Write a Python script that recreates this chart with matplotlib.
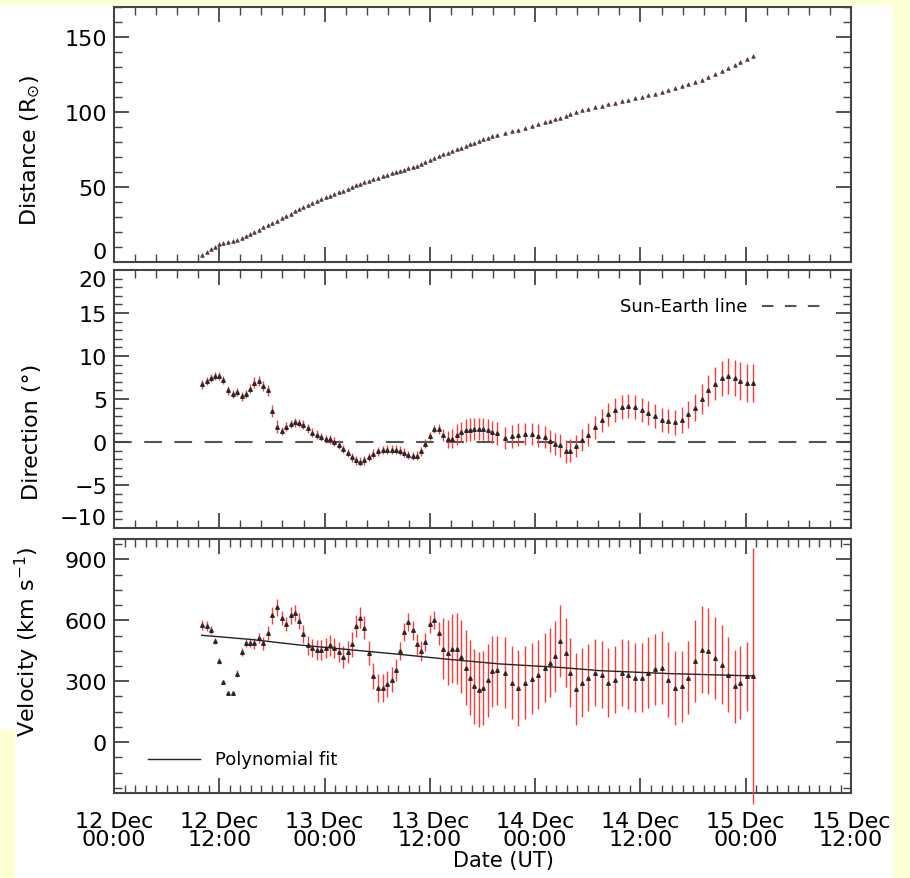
import matplotlib
matplotlib.use('Agg')
import matplotlib.pyplot as plt
from matplotlib.patches import Rectangle
from matplotlib.ticker import MultipleLocator, FixedLocator

# --- data: hours after 12 Dec 00:00 UT ---
hours = [10.0, 10.57, 11.06, 11.51, 12.0, 12.46, 13.03, 13.53, 13.98, 14.55,
         15.01, 15.47, 15.96, 16.49, 17.02, 17.52, 18.04, 18.54, 19.11, 19.6,
         20.14, 20.63, 21.12, 21.58, 22.08, 22.6, 23.1, 23.59, 24.13, 24.62,
         25.11, 25.64, 26.13, 26.64, 27.09, 27.58, 28.04, 28.53, 29.03, 29.55,
         30.12, 30.62, 31.15, 31.65, 32.14, 32.6, 33.05, 33.54, 34.04, 34.5,
         34.96, 35.45, 36.02, 36.51, 37.05, 37.53, 38.03, 38.56, 39.06, 39.55,
         40.08, 40.58, 41.06, 41.6, 42.09, 42.59, 43.12, 43.62, 44.56, 45.33,
         46.08, 46.84, 47.61, 48.36, 49.12, 49.69, 50.26, 50.83, 51.48, 51.97,
         52.66, 53.3, 54.06, 54.82, 55.58, 56.34, 57.1, 57.86, 58.62, 59.38,
         60.14, 60.9, 61.66, 62.42, 63.17, 63.94, 64.7, 65.45, 66.22, 66.98,
         67.73, 68.5, 69.26, 70.01, 70.78, 71.35, 72.11, 72.86]

distance = [4.9, 6.8, 8.5, 10.0, 11.7, 12.6, 13.4, 14.1, 14.8, 15.9,
            17.2, 18.6, 20.0, 21.6, 23.1, 24.6, 26.1, 27.6, 29.3, 30.7,
            32.2, 33.7, 35.1, 36.4, 37.9, 39.4, 40.9, 42.2, 43.3, 44.3,
            45.3, 46.4, 47.6, 48.8, 49.9, 51.0, 52.0, 53.0, 54.1, 55.1,
            56.3, 57.2, 58.2, 59.1, 60.0, 60.7, 61.6, 62.5, 63.4, 64.3,
            65.2, 66.5, 68.0, 69.3, 70.7, 71.8, 72.9, 74.1, 75.2, 76.3,
            77.4, 78.5, 79.6, 80.8, 81.8, 82.9, 83.8, 84.7, 86.2, 87.2,
            88.2, 89.3, 90.6, 91.9, 93.1, 94.0, 95.0, 96.0, 97.4, 98.5,
            100.0, 101.3, 102.2, 103.2, 104.2, 105.2, 106.2, 107.3, 108.2, 109.2,
            110.2, 111.2, 112.3, 113.3, 114.7, 116.0, 117.3, 118.7, 120.0, 121.5,
            123.5, 125.5, 127.5, 129.5, 131.5, 133.0, 135.0, 137.0]

direction = [6.7, 7.1, 7.45, 7.65, 7.65, 7.2, 6.0, 5.6, 5.8, 5.3,
             5.6, 6.2, 6.9, 7.1, 6.5, 6.0, 3.6, 1.8, 1.3, 1.8,
             2.1, 2.3, 2.2, 2.0, 1.6, 1.1, 0.85, 0.6, 0.35, 0.3,
             0.05, -0.3, -0.8, -1.3, -1.8, -2.15, -2.3, -2.15, -1.75, -1.35,
             -1.1, -0.95, -0.9, -0.9, -0.9, -1.0, -1.25, -1.5, -1.65, -1.6,
             -1.1, -0.2, 0.7, 1.5, 1.5, 0.8, 0.3, 0.4, 0.85, 1.15,
             1.35, 1.45, 1.5, 1.5, 1.5, 1.4, 1.15, 1.0, 0.5, 0.65,
             0.85, 0.9, 0.9, 0.75, 0.6, 0.1, -0.25, -0.4, -1.1, -1.0,
             -0.5, 0.2, 0.85, 1.7, 2.5, 3.2, 3.7, 4.05, 4.2, 4.05,
             3.75, 3.4, 3.0, 2.6, 2.4, 2.3, 2.6, 3.2, 4.0, 5.0,
             6.0, 6.8, 7.4, 7.65, 7.45, 7.1, 6.9, 6.9]

direction_err = [0.5, 0.5, 0.5, 0.5, 0.5, 0.5, 0.5, 0.5, 0.5, 0.5,
                 0.5, 0.5, 0.6, 0.6, 0.6, 0.6, 0.7, 0.7, 0.5, 0.5,
                 0.5, 0.5, 0.5, 0.5, 0.5, 0.5, 0.5, 0.5, 0.5, 0.5,
                 0.5, 0.5, 0.5, 0.5, 0.5, 0.5, 0.5, 0.5, 0.5, 0.5,
                 0.5, 0.5, 0.5, 0.5, 0.5, 0.5, 0.5, 0.5, 0.5, 0.5,
                 0.5, 0.5, 0.5, 0.5, 0.6, 0.7, 1.0, 1.1, 1.2, 1.2,
                 1.3, 1.3, 1.3, 1.3, 1.3, 1.3, 1.3, 1.3, 1.3, 1.3,
                 1.3, 1.3, 1.3, 1.3, 1.3, 1.3, 1.3, 1.3, 1.3, 1.3,
                 1.3, 1.3, 1.3, 1.3, 1.35, 1.35, 1.4, 1.4, 1.4, 1.4,
                 1.4, 1.4, 1.4, 1.4, 1.4, 1.45, 1.5, 1.55, 1.6, 1.7,
                 1.8, 1.9, 2.0, 2.1, 2.1, 2.2, 2.2, 2.2]

velocity = [575, 572, 552, 498, 399, 295, 243, 243, 338, 443,
            486, 486, 486, 514, 486, 539, 624, 663, 613, 580,
            624, 634, 596, 531, 476, 465, 453, 453, 465, 476,
            465, 443, 420, 443, 481, 572, 613, 564, 440, 325,
            267, 267, 287, 308, 354, 448, 542, 591, 550, 481,
            448, 493, 580, 601, 535, 460, 440, 460, 460, 420,
            366, 317, 275, 259, 267, 305, 349, 354, 341, 292,
            267, 292, 312, 333, 366, 391, 423, 498, 440, 341,
            262, 292, 317, 341, 333, 292, 308, 341, 333, 317,
            317, 341, 358, 366, 308, 267, 275, 317, 399, 456,
            448, 415, 382, 333, 275, 292, 325, 325]

velocity_err = [25, 25, 20, 15, 15, 10, 10, 10, 15, 20,
                20, 20, 25, 25, 30, 35, 40, 40, 35, 35,
                40, 40, 40, 45, 45, 45, 50, 50, 50, 50,
                50, 50, 55, 55, 60, 55, 50, 55, 60, 65,
                70, 70, 65, 60, 55, 45, 45, 45, 45, 50,
                50, 45, 45, 45, 55, 150, 160, 170, 175, 180,
                185, 185, 185, 185, 180, 180, 175, 170, 175, 180,
                185, 180, 175, 170, 170, 170, 175, 175, 170, 170,
                175, 170, 165, 165, 165, 170, 165, 165, 170, 170,
                170, 175, 175, 180, 185, 180, 175, 180, 200, 215,
                210, 200, 195, 185, 180, 180, 170, 630]

# polynomial fit to the velocity profile
fit_hours = [10.0, 15.5, 21.2, 26.9, 32.6, 38.3, 44.0, 50.8, 55.4, 63.0, 72.9]
fit_velocity = [526, 506, 478, 455, 432, 407, 385, 368, 352, 338, 326]

tick_hours = [0, 12, 24, 36, 48, 60, 72, 84]
tick_labels = ['12 Dec\n00:00', '12 Dec\n12:00', '13 Dec\n00:00', '13 Dec\n12:00',
               '14 Dec\n00:00', '14 Dec\n12:00', '15 Dec\n00:00', '15 Dec\n12:00']

err_color = '#ff3838'
mark_color = '#2a2a2a'
axis_color = '#444444'

fig = plt.figure(figsize=(9.10, 8.79), dpi=100)
fig.patch.set_facecolor('#ffffd4')
fig.add_artist(Rectangle((0, 0.1695), 0.9813, 0.8237, transform=fig.transFigure,
                         facecolor='white', edgecolor='none', zorder=0))
fig.add_artist(Rectangle((0.0165, 0), 0.9648, 0.1700, transform=fig.transFigure,
                         facecolor='white', edgecolor='none', zorder=0))

left, width = 0.1253, 0.8099
ax1 = fig.add_axes([left, 0.7008, width, 0.2901])
ax2 = fig.add_axes([left, 0.3982, width, 0.2935])
ax3 = fig.add_axes([left, 0.0967, width, 0.2890])


def style_axis(ax, ymin, ymax, yticks, yminor, xminor):
    ax.set_xlim(0, 84)
    ax.set_ylim(ymin, ymax)
    ax.xaxis.set_major_locator(FixedLocator(tick_hours))
    ax.xaxis.set_minor_locator(MultipleLocator(xminor))
    ax.yaxis.set_major_locator(FixedLocator(yticks))
    ax.yaxis.set_minor_locator(MultipleLocator(yminor))
    ax.tick_params(which='both', direction='in', top=True, right=True, color=axis_color)
    ax.tick_params(which='major', length=11, width=1.3, labelsize=16, pad=5)
    ax.tick_params(which='minor', length=5.5, width=1.0)
    for spine in ax.spines.values():
        spine.set_linewidth(1.5)
        spine.set_color(axis_color)
    ax.set_facecolor('white')


# --- Panel 1: distance ---
ax1.plot(hours, distance, '^', ms=2.6, mfc='#803030', mec='#3a3a3a', mew=0.5)
style_axis(ax1, 0, 170, [0, 50, 100, 150], 10, 2.4)
ax1.tick_params(labelbottom=False)
ax1.set_ylabel(r'Distance (R$_{\odot}$)', fontsize=16)
ax1.yaxis.set_label_coords(-0.098, 0.443)

# --- Panel 2: direction ---
ax2.axhline(0, color='#555555', lw=1.5, dashes=(8.5, 6), zorder=1)
ax2.errorbar(hours, direction, yerr=direction_err, fmt='^', ms=2.6, color=mark_color,
             ecolor=err_color, elinewidth=1.0, capsize=0, zorder=3)
style_axis(ax2, -10, 20, [-10, -5, 0, 5, 10, 15, 20], 1, 2.4)
ax2.tick_params(labelbottom=False)
ax2.set_ylabel('Direction (°)', fontsize=16)
ax2.yaxis.set_label_coords(-0.098, 0.376)
ax2.text(0.86, 0.86, 'Sun-Earth line', transform=ax2.transAxes, fontsize=13,
         ha='right', va='center')
ax2.plot([0.879, 0.958], [0.86, 0.86], transform=ax2.transAxes, color='#555555',
         lw=1.5, dashes=(5.5, 5.5))

# --- Panel 3: velocity ---
ax3.errorbar(hours, velocity, yerr=velocity_err, fmt='^', ms=2.6, color=mark_color,
             ecolor=err_color, elinewidth=1.0, capsize=0, zorder=3, clip_on=False)
ax3.plot(fit_hours, fit_velocity, color='#222222', lw=1.0, zorder=4)
style_axis(ax3, -250, 1000, [0, 300, 600, 900], 75, 1.2)
ax3.set_xticklabels(tick_labels, fontsize=16, linespacing=0.9)
ax3.tick_params(axis='x', which='major', pad=13)
ax3.set_ylabel(r'Velocity (km s$^{-1}$)', fontsize=16)
ax3.yaxis.set_label_coords(-0.098, 0.60)
ax3.set_xlabel('Date (UT)', fontsize=15)
ax3.xaxis.set_label_coords(0.528, -0.224)
ax3.plot([0.046, 0.117], [0.134, 0.134], transform=ax3.transAxes, color='#222222', lw=1.0)
ax3.text(0.137, 0.134, 'Polynomial fit', transform=ax3.transAxes, fontsize=13,
         ha='left', va='center')

# keep edge tick labels inside their own panel, as in the original
fig.canvas.draw()
ax1.get_yticklabels()[0].set_verticalalignment('bottom')
ax2.get_yticklabels()[0].set_verticalalignment('bottom')
ax2.get_yticklabels()[-1].set_verticalalignment('top')

fig.savefig('out.png', dpi=100, facecolor=fig.get_facecolor())
